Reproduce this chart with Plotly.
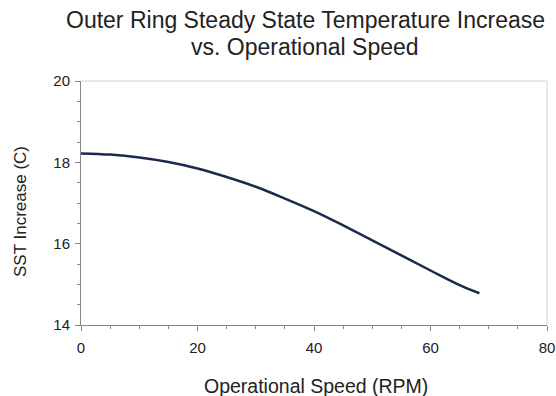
import plotly.graph_objects as go

speed_rpm = [0, 5, 10, 15, 20, 25, 30, 35, 40, 45, 50, 55, 60, 65, 68.4]
sst_increase = [18.22, 18.19, 18.12, 18.01, 17.85, 17.64, 17.40, 17.11, 16.80, 16.45, 16.08, 15.71, 15.34, 14.98, 14.78]

x_ticks = [0, 20, 40, 60, 80]
y_ticks = [14, 16, 18, 20]

title_lines = ["Outer Ring Steady State Temperature Increase", "vs. Operational Speed"]

fig = go.Figure()
fig.add_trace(go.Scatter(
    x=speed_rpm, y=sst_increase, mode="lines",
    line=dict(color="#1b2a4e", width=2.5, shape="spline"),
    showlegend=False,
))

font_family = "Liberation Sans, Arial, sans-serif"
W, H = 556, 396
L, R, T, B = 81, 9, 81, 71
PW, PH = W - L - R, H - T - B

fig.update_layout(
    width=W, height=H,
    margin=dict(l=L, r=R, t=T, b=B),
    paper_bgcolor="white", plot_bgcolor="white",
    font=dict(family=font_family, color="#222222", size=14),
)
fig.update_xaxes(
    range=[0, 80], tickvals=x_ticks, automargin=False,
    showgrid=False, zeroline=False,
    showline=True, linecolor="#888888", linewidth=1,
    ticks="outside", ticklen=5, tickcolor="#888888",
    minor=dict(dtick=5, ticks="outside", ticklen=3, tickcolor="#888888"),
    tickfont=dict(size=15), ticklabelstandoff=4, ticklabeloverflow="allow",
)
fig.update_yaxes(
    range=[14, 20], tickvals=y_ticks, automargin=False,
    showgrid=False, zeroline=False,
    showline=True, linecolor="#888888", linewidth=1,
    ticks="outside", ticklen=5, tickcolor="#888888",
    minor=dict(dtick=0.5, ticks="outside", ticklen=3, tickcolor="#888888"),
    tickfont=dict(size=15), ticklabelstandoff=2, ticklabeloverflow="allow",
)

def px(xp):
    return (xp - L) / PW

def py(yp):
    return (H - B - yp) / PH

fig.add_annotation(text=title_lines[0], xref="paper", yref="paper",
                   x=px(305), y=py(20.5), xanchor="center", yanchor="middle",
                   showarrow=False, font=dict(size=23, color="#222222"))
fig.add_annotation(text=title_lines[1], xref="paper", yref="paper",
                   x=px(305), y=py(47), xanchor="center", yanchor="middle",
                   showarrow=False, font=dict(size=23, color="#222222"))
fig.add_annotation(text="Operational Speed (RPM)", xref="paper", yref="paper",
                   x=px(316), y=py(386), xanchor="center", yanchor="middle",
                   showarrow=False, font=dict(size=19.5, color="#222222"))
fig.add_annotation(text="SST Increase (C)", xref="paper", yref="paper",
                   x=px(20), y=py(211), xanchor="center", yanchor="middle",
                   textangle=-90, showarrow=False, font=dict(size=17, color="#222222"))
# light frame on top and right
fig.add_shape(type="line", xref="paper", yref="paper", x0=0, x1=1, y0=1, y1=1,
              line=dict(color="#d0d0d0", width=1))
fig.add_shape(type="line", xref="paper", yref="paper", x0=1, x1=1, y0=0, y1=1,
              line=dict(color="#d0d0d0", width=1))

fig.write_html(
    "out.html",
    config={"displayModeBar": False},
    post_script="document.body.style.margin='0';document.body.style.overflow='hidden';",
)
